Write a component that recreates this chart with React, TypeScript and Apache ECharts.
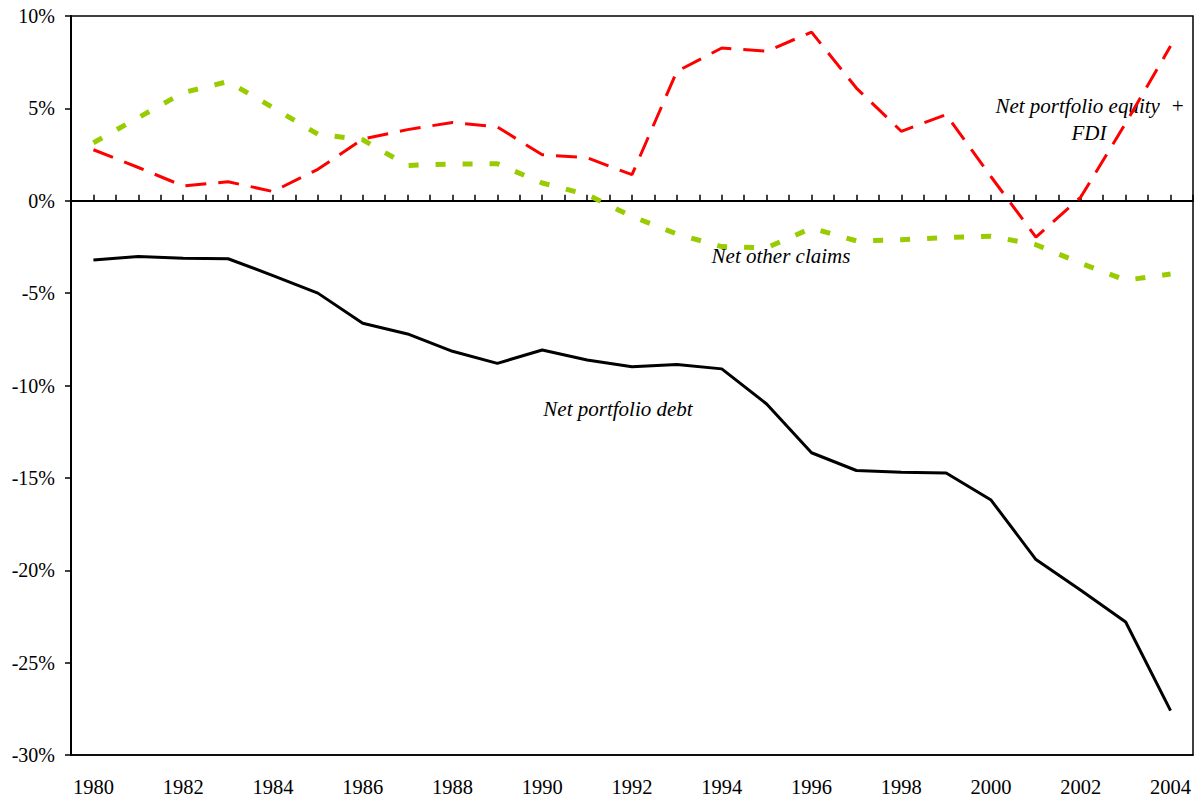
import React, { useEffect, useRef } from "react";
import * as echarts from "echarts";

const years = [
  1980, 1981, 1982, 1983, 1984, 1985, 1986, 1987, 1988, 1989, 1990, 1991, 1992,
  1993, 1994, 1995, 1996, 1997, 1998, 1999, 2000, 2001, 2002, 2003, 2004,
];

const netPortfolioDebt = [
  -3.21, -3.02, -3.11, -3.14, -4.05, -5.0, -6.63, -7.21, -8.15, -8.8, -8.08,
  -8.62, -8.98, -8.86, -9.1, -11.0, -13.64, -14.6, -14.7, -14.74, -16.2, -19.42,
  -21.08, -22.8, -27.6,
];

const netEquityFDI = [
  2.76, 1.8, 0.8, 1.03, 0.5, 1.7, 3.34, 3.85, 4.24, 3.99, 2.49, 2.33, 1.41, 7.0,
  8.27, 8.09, 9.13, 6.1, 3.76, 4.66, 1.3, -1.97, 0.2, 4.2, 8.37,
];

const netOtherClaims = [
  3.14, 4.5, 5.85, 6.45, 5.04, 3.6, 3.3, 1.91, 1.99, 2.0, 0.96, 0.33, -0.85,
  -1.8, -2.48, -2.55, -1.48, -2.17, -2.11, -1.99, -1.92, -2.38, -3.38, -4.3,
  -3.97,
];

const yTicks = { min: -30, max: 10, interval: 5 };

const FONT = "'Liberation Serif', 'Times New Roman', serif";

export default function App() {
  const ref = useRef<HTMLDivElement>(null);

  useEffect(() => {
    if (!ref.current) return;
    const chart = echarts.init(ref.current, undefined, { renderer: "svg" });
    const pair = (vals: number[]) => years.map((y, i) => [y, vals[i]]);

    const note = (text: string, x: number, y: number) => ({
      type: "text",
      x,
      y,
      style: {
        text,
        font: `italic 21px ${FONT}`,
        fill: "#000",
        align: "center",
        verticalAlign: "middle",
      },
    });

    chart.setOption({
      animation: false,
      backgroundColor: "#ffffff",
      grid: {
        left: 71,
        right: 9,
        top: 16,
        bottom: 45,
        show: true,
        borderColor: "#000",
        borderWidth: 1.5,
        backgroundColor: "transparent",
      },
      xAxis: [
        {
          type: "value",
          position: "top",
          min: 1979.5,
          max: 2004.5,
          interval: 0.5,
          axisLine: { show: true, onZero: true, lineStyle: { color: "#000", width: 2 } },
          axisTick: { show: true, inside: false, length: 6, lineStyle: { color: "#000", width: 1.5 } },
          axisLabel: { show: false },
          splitLine: { show: false },
        },
        {
          type: "value",
          position: "bottom",
          min: 1979.5,
          max: 2004.5,
          interval: 0.5,
          axisLine: { show: true, onZero: false, lineStyle: { color: "#000", width: 1.5 } },
          axisTick: { show: false },
          axisLabel: {
            margin: 21,
            color: "#000",
            fontFamily: FONT,
            fontSize: 20.5,
            formatter: (v: number) =>
              Number.isInteger(v) && v % 2 === 0 ? String(v) : "",
          },
          splitLine: { show: false },
        },
      ],
      yAxis: {
        type: "value",
        min: yTicks.min,
        max: yTicks.max,
        interval: yTicks.interval,
        axisLine: { show: true, onZero: false, lineStyle: { color: "#000", width: 2 } },
        axisTick: { show: true, inside: false, length: 6, lineStyle: { color: "#000", width: 1.5 } },
        axisLabel: {
          margin: 16,
          color: "#000",
          fontFamily: FONT,
          fontSize: 20,
          formatter: (v: number) => `${v}%`,
        },
        splitLine: { show: false },
      },
      series: [
        {
          name: "Net portfolio debt",
          type: "line",
          xAxisIndex: 1,
          data: pair(netPortfolioDebt),
          showSymbol: false,
          symbol: "none",
          lineStyle: { color: "#000", width: 3 },
        },
        {
          name: "Net portfolio equity + FDI",
          type: "line",
          xAxisIndex: 1,
          data: pair(netEquityFDI),
          showSymbol: false,
          symbol: "none",
          lineStyle: { color: "#ff0000", width: 3, type: [21, 12], cap: "butt" },
        },
        {
          name: "Net other claims",
          type: "line",
          xAxisIndex: 1,
          data: pair(netOtherClaims),
          showSymbol: false,
          symbol: "none",
          lineStyle: { color: "#99cc00", width: 5, type: [10, 17], cap: "butt" },
        },
      ],
      graphic: [
        note("Net portfolio debt", 618, 409),
        note("Net other claims", 781, 256),
        note("Net portfolio equity  +", 1090, 106),
        note("FDI", 1089, 133),
      ],
    });

    return () => chart.dispose();
  }, []);

  return (
    <div
      ref={ref}
      style={{ position: "fixed", left: 0, top: 0, width: 1202, height: 800 }}
    />
  );
}
